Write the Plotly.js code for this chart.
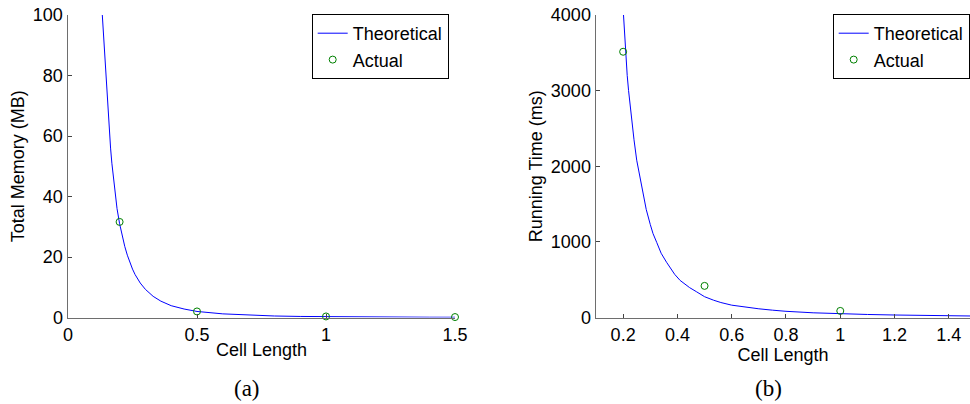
<!DOCTYPE html>
<html>
<head>
<meta charset="utf-8">
<script src="https://cdn.plot.ly/plotly-3.0.1.min.js"></script>
<style>
html,body{margin:0;padding:0;background:#fff;}
#chart{width:970px;height:404px;}
</style>
</head>
<body>
<div id="chart"></div>
<script>
// (a) Total memory vs cell length
const memTheoX = [0.133, 0.14, 0.145, 0.15, 0.155, 0.16, 0.165, 0.17, 0.175, 0.18, 0.185, 0.19, 0.2, 0.21, 0.22, 0.23, 0.24, 0.25, 0.26, 0.28, 0.3, 0.33, 0.36, 0.4, 0.45, 0.5, 0.6, 0.7, 0.8, 0.9, 1.0, 1.1, 1.2, 1.3, 1.4, 1.5];
const memTheoY = [100, 90, 82, 76, 68, 62, 56, 51, 47, 43, 39.5, 36, 31, 27, 23.5, 20.6, 18.2, 16.0, 14.2, 11.4, 9.3, 7.0, 5.4, 3.9, 2.8, 2.0, 1.2, 0.75, 0.5, 0.35, 0.26, 0.19, 0.15, 0.12, 0.09, 0.08];
const memActX = [0.2, 0.5, 1.0, 1.5];
const memActY = [31.6, 2.0, 0.35, 0.15];

// (b) Running time vs cell length
const timeTheoX = [0.2, 0.205, 0.21, 0.215, 0.22, 0.227, 0.235, 0.24, 0.25, 0.26, 0.27, 0.285, 0.3, 0.31, 0.324, 0.34, 0.36, 0.378, 0.39, 0.41, 0.43, 0.445, 0.471, 0.5, 0.533, 0.56, 0.6, 0.65, 0.7, 0.75, 0.8, 0.9, 1.0, 1.1, 1.2, 1.3, 1.4, 1.5];
const timeTheoY = [4080, 3750, 3450, 3200, 3000, 2750, 2500, 2350, 2080, 1880, 1690, 1430, 1230, 1110, 990, 850, 730, 635, 570, 490, 430, 395, 339, 275, 229, 198, 163, 136, 115, 97, 82, 62, 48, 40, 33, 27, 22, 19];
const timeActX = [0.2, 0.5, 1.0];
const timeActY = [3514, 418, 87];

const seriesNames = ["Theoretical", "Actual"];
const xTitle = "Cell Length";
const yTitleA = "Total Memory (MB)";
const yTitleB = "Running Time (ms)";
const captions = ["(a)", "(b)"];

const FONT = "Liberation Sans, Arial, sans-serif";
const lineStyle = {color: "#0000ff", width: 1};
const markerStyle = {symbol: "circle-open", size: 7, color: "#008000", line: {color: "#008000", width: 1}};

const traces = [
  {x: memTheoX, y: memTheoY, type: "scatter", mode: "lines", name: seriesNames[0], line: lineStyle, xaxis: "x", yaxis: "y", legend: "legend"},
  {x: memActX, y: memActY, type: "scatter", mode: "markers", name: seriesNames[1], marker: markerStyle, cliponaxis: false, xaxis: "x", yaxis: "y", legend: "legend"},
  {x: timeTheoX, y: timeTheoY, type: "scatter", mode: "lines", name: seriesNames[0], line: lineStyle, xaxis: "x2", yaxis: "y2", legend: "legend2"},
  {x: timeActX, y: timeActY, type: "scatter", mode: "markers", name: seriesNames[1], marker: markerStyle, cliponaxis: false, xaxis: "x2", yaxis: "y2", legend: "legend2"}
];

const axisCommon = {
  showgrid: false, zeroline: false, showline: true, linecolor: "#6e6e6e", linewidth: 1.5,
  ticks: "inside", ticklen: 4, tickwidth: 1, tickcolor: "#444",
  tickfont: {family: FONT, size: 18, color: "#000"}, mirror: false
};
const ydom = [1 - 317.5/404, 1 - 15/404];

const legendCommon = {
  yanchor: "top", xanchor: "left", y: 1 - 14/404,
  bordercolor: "#000", borderwidth: 1, bgcolor: "#fff",
  font: {family: FONT, size: 18, color: "#000"}, tracegroupgap: 0
};

const layout = {
  width: 970, height: 404,
  margin: {l: 0, r: 0, t: 0, b: 0, autoexpand: false},
  paper_bgcolor: "#fff", plot_bgcolor: "#fff",
  showlegend: true,
  font: {family: FONT, size: 18, color: "#000"},
  xaxis: Object.assign({}, axisCommon, {domain: [68/970, 455/970], range: [0, 1.5], tickvals: [0, 0.5, 1, 1.5], ticktext: ["0", "0.5", "1", "1.5"], anchor: "y",
    title: {text: xTitle, font: {family: FONT, size: 18, color: "#000"}, standoff: 0}}),
  yaxis: Object.assign({}, axisCommon, {domain: ydom, range: [0, 100], tickvals: [0, 20, 40, 60, 80, 100], anchor: "x",
    title: {text: yTitleA, font: {family: FONT, size: 18, color: "#000"}, standoff: 3}}),
  xaxis2: Object.assign({}, axisCommon, {domain: [596/970, 1], range: [0.1, 1.478], tickvals: [0.2, 0.4, 0.6, 0.8, 1, 1.2, 1.4], ticktext: ["0.2", "0.4", "0.6", "0.8", "1", "1.2", "1.4"], anchor: "y2",
    title: {text: xTitle, font: {family: FONT, size: 18, color: "#000"}, standoff: 0}}),
  yaxis2: Object.assign({}, axisCommon, {domain: ydom, range: [0, 4000], tickvals: [0, 1000, 2000, 3000, 4000], ticktext: ["0", "1000", "2000", "3000", "4000"], anchor: "x2",
    title: {text: yTitleB, font: {family: FONT, size: 18, color: "#000"}, standoff: 3}}),
  legend: Object.assign({}, legendCommon, {x: 311.7/970}),
  legend2: Object.assign({}, legendCommon, {x: 832.7/970}),
  annotations: [
    {text: captions[0], xref: "paper", yref: "paper", x: 247/970, y: 1 - 388/404, xanchor: "center", yanchor: "middle", showarrow: false,
      font: {family: "Liberation Serif, Times New Roman, serif", size: 23, color: "#000"}},
    {text: captions[1], xref: "paper", yref: "paper", x: 768/970, y: 1 - 388/404, xanchor: "center", yanchor: "middle", showarrow: false,
      font: {family: "Liberation Serif, Times New Roman, serif", size: 23, color: "#000"}}
  ]
};

Plotly.newPlot("chart", traces, layout, {displayModeBar: false, staticPlot: true});
</script>
</body>
</html>
